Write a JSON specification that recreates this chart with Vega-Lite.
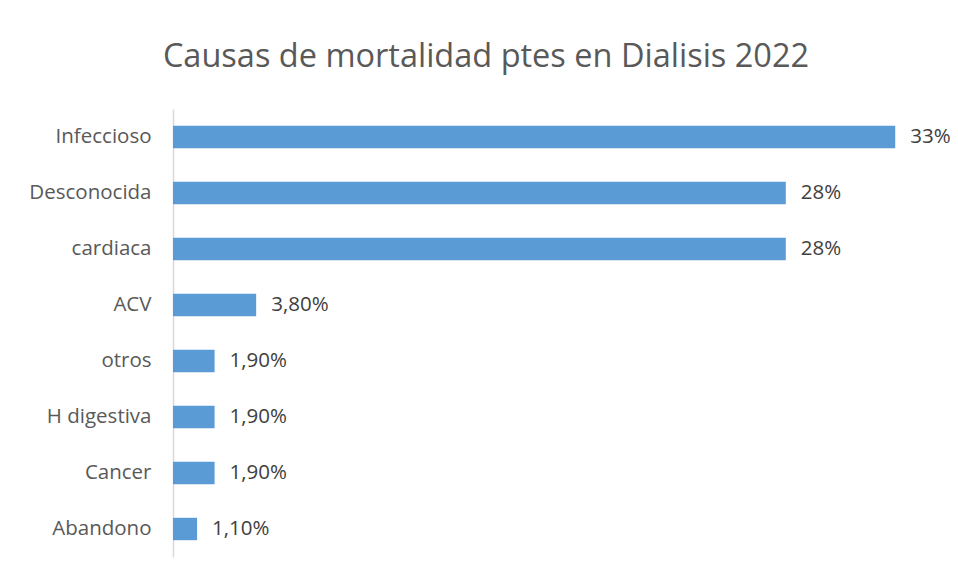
{
  "$schema": "https://vega.github.io/schema/vega-lite/v6.json",
  "autosize": "none",
  "width": 766,
  "height": 448,
  "padding": {"left": 173, "top": 109, "right": 19, "bottom": 22},
  "background": "white",
  "title": {
    "text": "Causas de mortalidad ptes en Dialisis 2022",
    "font": "Open Sans",
    "fontSize": 32.5,
    "fontWeight": "normal",
    "color": "#595959",
    "anchor": "middle",
    "dx": -70,
    "offset": 36
  },
  "data": {
    "values": [
      {"causa": "Infeccioso", "valor": 33, "etiqueta": "33%"},
      {"causa": "Desconocida", "valor": 28, "etiqueta": "28%"},
      {"causa": "cardiaca", "valor": 28, "etiqueta": "28%"},
      {"causa": "ACV", "valor": 3.8, "etiqueta": "3,80%"},
      {"causa": "otros", "valor": 1.9, "etiqueta": "1,90%"},
      {"causa": "H digestiva", "valor": 1.9, "etiqueta": "1,90%"},
      {"causa": "Cancer", "valor": 1.9, "etiqueta": "1,90%"},
      {"causa": "Abandono", "valor": 1.1, "etiqueta": "1,10%"}
    ]
  },
  "encoding": {
    "y": {
      "field": "causa",
      "type": "nominal",
      "sort": null,
      "scale": {"paddingInner": 0.6, "paddingOuter": 0.3},
      "axis": {
        "title": null,
        "ticks": false,
        "domainColor": "#d9d9d9",
        "domainWidth": 1.5,
        "labelFont": "Open Sans",
        "labelFontSize": 20.5,
        "labelColor": "#595959",
        "labelPadding": 22
      }
    },
    "x": {
      "field": "valor",
      "type": "quantitative",
      "scale": {"domain": [0, 35]},
      "axis": null
    }
  },
  "layer": [
    {"mark": {"type": "bar", "color": "#5b9bd5"}},
    {
      "mark": {"type": "text", "align": "left", "dx": 15, "font": "Open Sans", "fontSize": 20.5, "color": "#404040"},
      "encoding": {"text": {"field": "etiqueta"}}
    }
  ],
  "config": {"view": {"stroke": null}}
}
